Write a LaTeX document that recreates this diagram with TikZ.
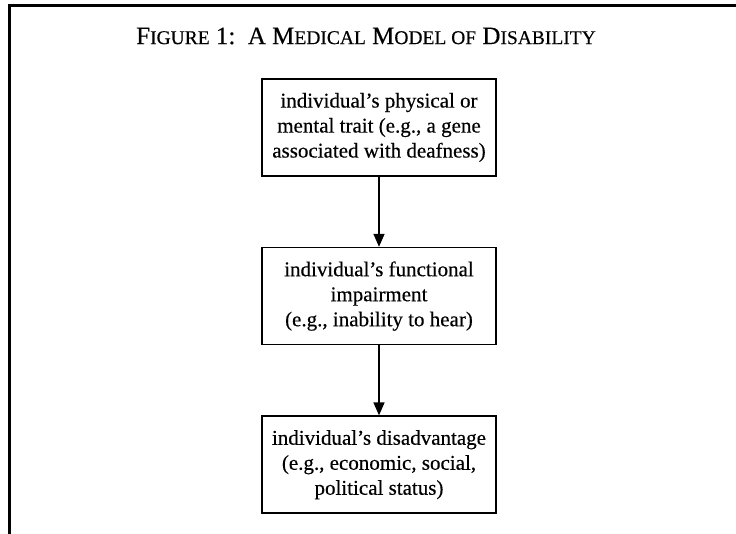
\documentclass[tikz,border=0pt]{standalone}
\usepackage{fontspec}
\setmainfont{Liberation Serif}
\newfontfamily\heavyfont[FakeBold=0.35,Ligatures=TeX]{Liberation Serif}
\usepackage{tikz}
\usetikzlibrary{positioning,arrows.meta}
\newcommand{\smallcap}[1]{{\fontsize{19.5}{22}\selectfont #1}}
\tikzstyle{bx}=[%
      rectangle, draw=black, line width=1.6pt, fill=none,
      minimum height=97pt, minimum width=234pt, inner sep=4pt, align=center,
      font=\heavyfont\fontsize{21}{25}\selectfont
]
\tikzstyle{ttl}=[%
      inner sep=0pt, font=\heavyfont\fontsize{25}{28}\selectfont
]
\begin{document}
\begin{tikzpicture}[x=1pt, y=-1pt,
    node distance=70pt,
    ->,
    >={Triangle[length=13pt,width=11pt]}
  ]
    \useasboundingbox (0,0) rectangle (736,534);
    % open frame: left and top only
    \draw[-, line width=3pt] (9,534) -- (9,6) -- (736,6);

    \node[ttl] (title) at (366,36)
      {F\smallcap{IGURE} 1:\ \ A M\smallcap{EDICAL} M\smallcap{ODEL OF} D\smallcap{ISABILITY}};

    \node[bx] (1) at (379,127.5) {individual’s physical or\\ mental trait (e.g., a gene\\ associated with deafness)};
    \node[bx] (2) [below = of 1] {individual’s functional\\ impairment\\ (e.g., inability to hear)};
    \node[bx] (3) [below = of 2] {individual’s disadvantage\\ (e.g., economic, social,\\ political status)};

    \path[line width=1.6pt] (1) edge (2)
          (2) edge (3)
    ;

  \end{tikzpicture}
\end{document}
